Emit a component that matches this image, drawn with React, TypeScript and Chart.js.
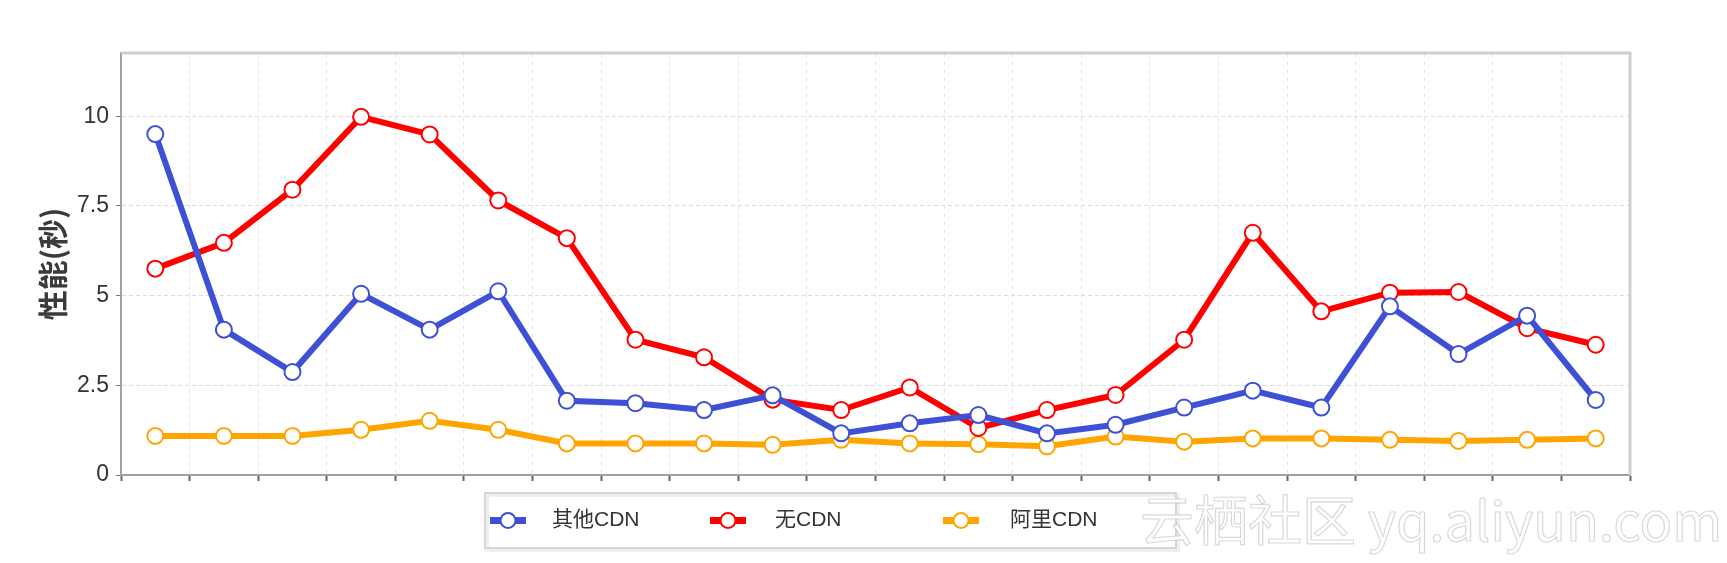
import React, { useEffect, useRef } from "react";
import { Chart, registerables } from "chart.js";

Chart.register(...registerables);

// ---- data ----
const categories = [
  "1", "2", "3", "4", "5", "6", "7", "8", "9", "10", "11",
  "12", "13", "14", "15", "16", "17", "18", "19", "20", "21", "22",
];
const otherCdn = [9.5, 4.05, 2.87, 5.05, 4.05, 5.12, 2.07, 2.0, 1.81, 2.22, 1.16, 1.44, 1.67, 1.16, 1.4, 1.88, 2.35, 1.88, 4.7, 3.37, 4.44, 2.09];
const noCdn = [5.75, 6.47, 7.95, 9.98, 9.49, 7.65, 6.6, 3.77, 3.28, 2.1, 1.81, 2.44, 1.31, 1.81, 2.23, 3.77, 6.75, 4.56, 5.08, 5.1, 4.09, 3.63];
const aliCdn = [1.09, 1.09, 1.09, 1.26, 1.51, 1.26, 0.88, 0.88, 0.88, 0.84, 0.98, 0.88, 0.86, 0.8, 1.07, 0.93, 1.02, 1.02, 0.98, 0.95, 0.98, 1.02];
const yTicks = [0, 2.5, 5, 7.5, 10];
const seriesNames = ["其他CDN", "无CDN", "阿里CDN"];
const seriesColors = ["#3d50d6", "#ff0000", "#ffa500"];
const yTitle = "性能(秒)";
const watermark = "云栖社区 yq.aliyun.com";

const frameAndLegend = {
  id: "frameAndLegend",
  beforeDatasetsDraw(chart: any) {
    const { ctx, chartArea } = chart;
    ctx.save();
    ctx.strokeStyle = "#cfcfcf";
    ctx.lineWidth = 3;
    ctx.beginPath();
    ctx.moveTo(chartArea.left, chartArea.top);
    ctx.lineTo(chartArea.right, chartArea.top);
    ctx.lineTo(chartArea.right, chartArea.bottom);
    ctx.stroke();
    ctx.restore();
  },
  afterDraw(chart: any) {
    const { ctx } = chart;
    ctx.save();
    // legend box
    const bx = 485, by = 493, bw = 691, bh = 55;
    ctx.strokeStyle = "#efefef";
    ctx.lineWidth = 4;
    ctx.strokeRect(bx + 2, by + 2, bw, bh);
    ctx.strokeStyle = "#d6d6d6";
    ctx.lineWidth = 2;
    ctx.strokeRect(bx, by, bw, bh);
    const markerX = [508, 728, 961];
    const textX = [552, 775, 1010];
    const cy = by + bh / 2;
    chart.data.datasets.forEach((ds: any, i: number) => {
      const mx = markerX[i];
      ctx.strokeStyle = ds.borderColor;
      ctx.lineWidth = 7;
      ctx.beginPath();
      ctx.moveTo(mx - 18, cy);
      ctx.lineTo(mx + 18, cy);
      ctx.stroke();
      ctx.beginPath();
      ctx.arc(mx, cy, 7.5, 0, Math.PI * 2);
      ctx.fillStyle = "#ffffff";
      ctx.fill();
      ctx.lineWidth = 2;
      ctx.stroke();
      ctx.fillStyle = "#333333";
      ctx.font = "21px 'Liberation Sans', 'Noto Sans CJK SC', sans-serif";
      ctx.textBaseline = "middle";
      ctx.textAlign = "left";
      ctx.fillText(ds.label, textX[i], cy);
    });
    // watermark
    ctx.font = "54px 'Noto Sans CJK SC', 'Liberation Sans', sans-serif";
    ctx.textBaseline = "alphabetic";
    ctx.lineWidth = 1.2;
    ctx.strokeStyle = "rgba(170,170,170,0.45)";
    ctx.fillStyle = "rgba(255,255,255,0.92)";
    ctx.fillText(watermark, 1140, 541);
    ctx.strokeText(watermark, 1140, 541);
    ctx.restore();
  },
};

export default function App() {
  const ref = useRef<HTMLCanvasElement | null>(null);
  useEffect(() => {
    if (!ref.current) return;
    const series = [otherCdn, noCdn, aliCdn];
    const chart = new Chart(ref.current, {
      type: "line",
      data: {
        labels: categories,
        datasets: series.map((d, i) => ({
          label: seriesNames[i],
          data: d,
          borderColor: seriesColors[i],
          backgroundColor: "#ffffff",
          borderWidth: 6,
          pointRadius: 8,
          pointBorderWidth: 2,
          pointBackgroundColor: "#ffffff",
          pointBorderColor: seriesColors[i],
          tension: 0,
        })),
      },
      options: {
        animation: false,
        responsive: false,
        devicePixelRatio: 1,
        layout: { padding: { top: 53, right: 97, left: 0, bottom: 0 } },
        plugins: {
          legend: { display: false },
          tooltip: { enabled: false },
        },
        scales: {
          x: {
            type: "category",
            offset: true,
            grid: {
              offset: true,
              color: "#e6e6e6",
              lineWidth: 1,
              tickColor: "#666666",
              tickLength: 6,
              tickWidth: 2,
              tickBorderDash: [],
            },
            border: { display: true, color: "#a0a0a0", width: 2, dash: [4, 4] },
            ticks: { display: false },
            afterFit: (s: any) => {
              s.height = 88;
            },
          },
          y: {
            min: 0,
            max: 11.76,
            afterBuildTicks: (s: any) => {
              s.ticks = yTicks.map((v) => ({ value: v }));
            },
            ticks: {
              callback: (v: any) => String(v),
              color: "#333333",
              font: { family: "'Liberation Sans', Arial, sans-serif", size: 23 },
              padding: 7,
            },
            grid: {
              color: "#dcdcdc",
              lineWidth: 1,
              tickColor: "#777777",
              tickLength: 5,
              tickBorderDash: [],
            },
            border: { display: true, color: "#a0a0a0", width: 2, dash: [4, 3] },
            title: {
              display: true,
              text: yTitle,
              color: "#3a3a3a",
              font: { family: "'Noto Sans CJK SC', sans-serif", size: 30, weight: "bold" },
              padding: { top: 35, bottom: 0 },
            },
            afterFit: (s: any) => {
              s.width = 121;
            },
          },
        },
      },
      plugins: [frameAndLegend],
    });
    return () => chart.destroy();
  }, []);
  return (
    <div style={{ position: "fixed", left: 0, top: 0, width: 1727, height: 563, background: "#fff" }}>
      <canvas ref={ref} width={1727} height={563} style={{ width: 1727, height: 563, display: "block" }} />
    </div>
  );
}
